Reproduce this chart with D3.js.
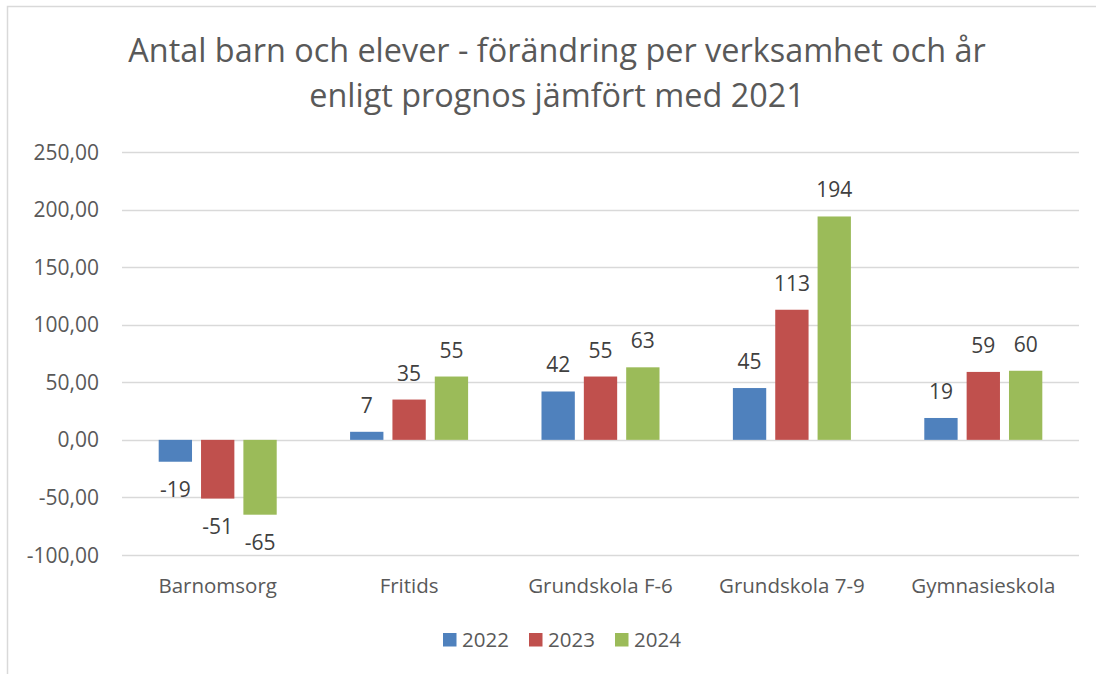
<!DOCTYPE html>
<html>
<head>
<meta charset="utf-8">
<script src="https://cdn.jsdelivr.net/npm/d3@7/dist/d3.min.js"></script>
<style>
  html, body { margin: 0; padding: 0; background: #fff; }
  svg { display: block; font-family: "Open Sans", "DejaVu Sans", sans-serif; }
</style>
</head>
<body>
<svg id="chart" width="1096" height="674"></svg>
<script>
const titleLines = ["Antal barn och elever - förändring per verksamhet och år", "enligt prognos jämfört med 2021"];
const categories = ["Barnomsorg", "Fritids", "Grundskola F-6", "Grundskola 7-9", "Gymnasieskola"];
const seriesNames = ["2022", "2023", "2024"];
const values2022 = [-19, 7, 42, 45, 19];
const values2023 = [-51, 35, 55, 113, 59];
const values2024 = [-65, 55, 63, 194, 60];
const yTicks = [-100, -50, 0, 50, 100, 150, 200, 250];
const colors = ["#4F81BD", "#C0504D", "#9BBB59"];

const seriesValues = [values2022, values2023, values2024];
const svg = d3.select("#chart");
const textColor = "#595959";
const gridColor = "#d9d9d9";

// chart border (chart area extends slightly past right edge)
svg.append("rect").attr("x", 7.5).attr("y", 6.5).attr("width", 1110).attr("height", 700)
  .attr("fill", "none").attr("stroke", gridColor).attr("stroke-width", 1.5);

const plot = { left: 122, right: 1079, top: 152, bottom: 555 };
const y = d3.scaleLinear().domain([-100, 250]).range([plot.bottom, plot.top]);
const x0 = d3.scaleBand().domain(categories).range([plot.left, plot.right]).paddingInner(0).paddingOuter(0);
const bw = x0.bandwidth();
const x1 = d3.scaleBand().domain(seriesNames).range([bw * 0.1917, bw * 0.8083]).paddingInner(0.213).paddingOuter(0);

// gridlines
svg.append("g").selectAll("line").data(yTicks).join("line")
  .attr("x1", plot.left).attr("x2", plot.right)
  .attr("y1", d => Math.round(y(d)) + 0.5).attr("y2", d => Math.round(y(d)) + 0.5)
  .attr("stroke", gridColor).attr("stroke-width", 1.3);

// y axis labels
const fmt = d => d3.format(".2f")(d).replace(".", ",").replace("−", "-");
svg.append("g").selectAll("text").data(yTicks).join("text")
  .attr("x", 99).attr("y", d => y(d)).attr("dy", "0.36em")
  .attr("text-anchor", "end").attr("fill", textColor).attr("font-size", 21)
  .text(fmt);

// bars
const rows = [];
categories.forEach((c, i) => seriesNames.forEach((s, j) => rows.push({ c, s, j, v: seriesValues[j][i] })));
svg.append("g").selectAll("rect").data(rows).join("rect")
  .attr("x", d => x0(d.c) + x1(d.s))
  .attr("width", x1.bandwidth())
  .attr("y", d => y(Math.max(0, d.v)))
  .attr("height", d => Math.abs(y(d.v) - y(0)))
  .attr("fill", d => colors[d.j]);

// data labels
svg.append("g").selectAll("text").data(rows).join("text")
  .attr("x", d => x0(d.c) + x1(d.s) + x1.bandwidth() / 2)
  .attr("y", d => d.v >= 0 ? y(d.v) - 19 : y(d.v) + 35)
  .attr("text-anchor", "middle").attr("fill", "#404040").attr("font-size", 21)
  .text(d => String(d.v));

// category labels
svg.append("g").selectAll("text").data(categories).join("text")
  .attr("x", d => x0(d) + bw / 2).attr("y", 593)
  .attr("text-anchor", "middle").attr("fill", textColor).attr("font-size", 20.5)
  .text(d => d);

// title
const title = svg.append("g");
titleLines.forEach((t, i) => {
  title.append("text").attr("x", 557).attr("y", 62 + i * 45)
    .attr("text-anchor", "middle").attr("fill", textColor).attr("font-size", 32.4)
    .text(t);
});

// legend
const legendX = [443, 529, 615];
const lg = svg.append("g").selectAll("g").data(seriesNames).join("g")
  .attr("transform", (d, i) => `translate(${legendX[i]},633)`);
lg.append("rect").attr("width", 13.5).attr("height", 13.5).attr("fill", (d, i) => colors[i]);
lg.append("text").attr("x", 19).attr("y", 13.5).attr("fill", textColor).attr("font-size", 20.5).text(d => d);
</script>
</body>
</html>
